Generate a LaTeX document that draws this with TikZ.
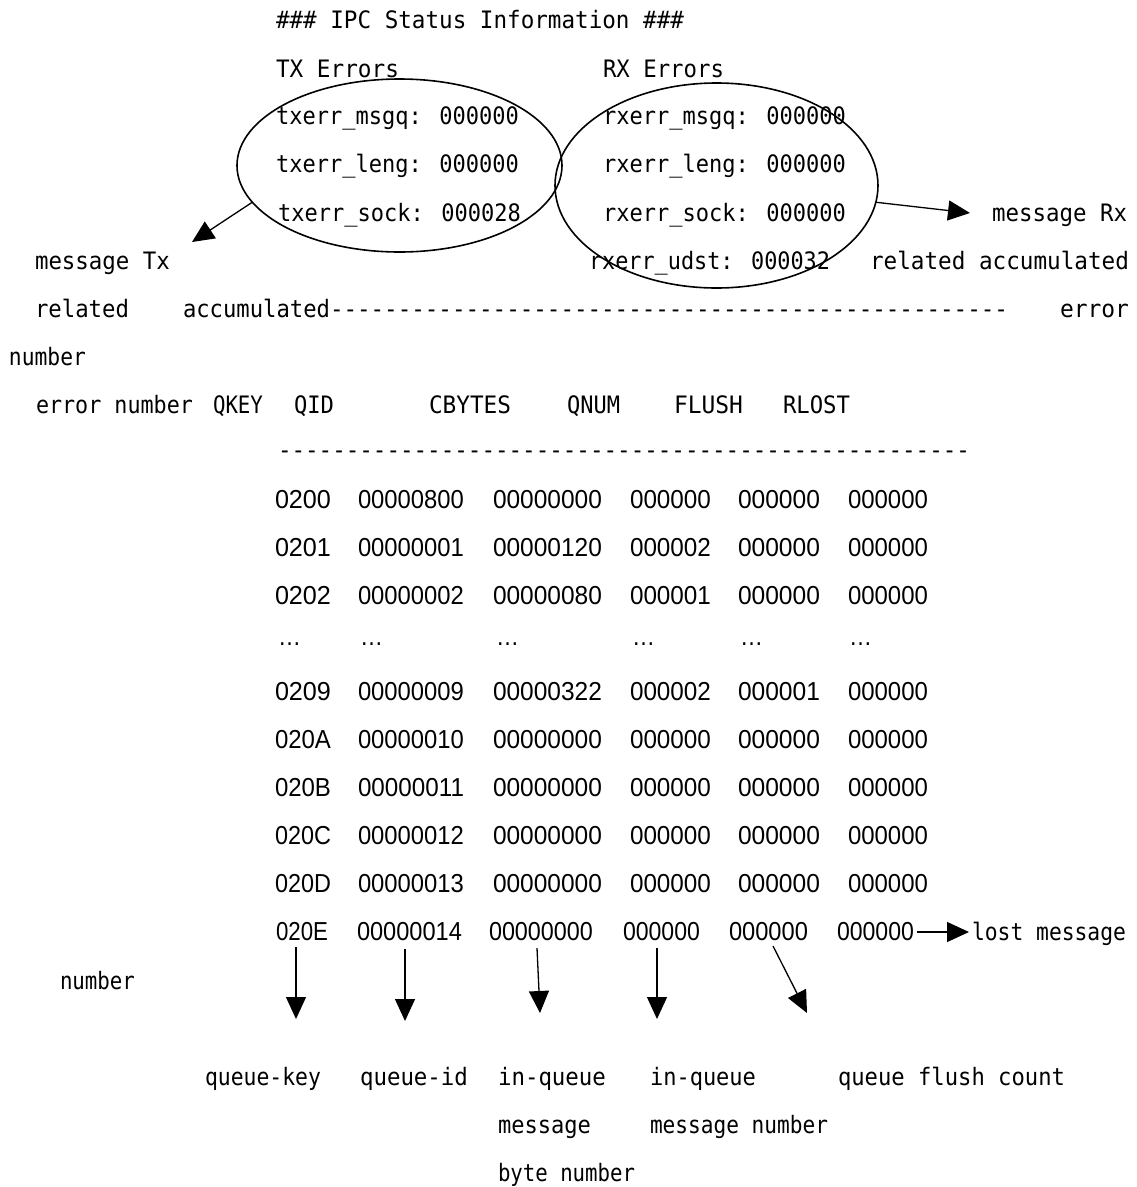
\documentclass[tikz,border=0pt]{standalone}
\usepackage{fontspec}
\usepackage{graphicx}
\setmainfont{DejaVu Sans}
\newfontfamily\gmono{DejaVu Sans Mono}
\newfontfamily\helv{Liberation Sans}
\usetikzlibrary{arrows.meta,shapes.geometric}
\newcommand\fitw[2]{\resizebox{#1pt}{\height}{#2}}
\newcommand\gl[5]{\node[gtext] (#1) at (#2,#3) {\fitw{#4}{#5}};}
\newcommand\hl[5]{\node[htext] (#1) at (#2,#3) {\fitw{#4}{#5}};}
\begin{document}
\begin{tikzpicture}[x=1pt,y=-1pt,
  gtext/.style={anchor=base west,inner sep=0pt,outer sep=0pt,font=\gmono\fontsize{24}{28}\selectfont},
  htext/.style={anchor=base west,inner sep=0pt,outer sep=0pt,font=\helv\fontsize{26}{30}\selectfont},
  ell/.style={draw,line width=1.6pt,ellipse,inner sep=0pt,outer sep=0pt},
  arr/.style={line width=1.3pt,-{Triangle[length=22pt,width=20pt]}}]
\useasboundingbox (0,0) rectangle (1137,1187);
\fill[white] (0,0) rectangle (1137,1187);

% header block
\gl{title}{276}{28}{408}{\#\#\# IPC Status Information \#\#\#}
\gl{txhead}{276}{77}{123}{TX Errors}
\gl{rxhead}{603}{77}{121}{RX Errors}
\gl{txmsgq}{276}{124}{243}{txerr\_msgq: 000000}
\gl{txleng}{276}{172}{243}{txerr\_leng: 000000}
\gl{txsock}{278}{221}{243}{txerr\_sock: 000028}
\gl{rxmsgq}{603}{124}{243}{rxerr\_msgq: 000000}
\gl{rxleng}{603}{172}{243}{rxerr\_leng: 000000}
\gl{rxsock}{603}{221}{243}{rxerr\_sock: 000000}
\gl{msgrx}{992}{221}{135}{message Rx}
\gl{msgtx}{35}{269}{135}{message Tx}
\gl{rxudst}{589}{269}{241}{rxerr\_udst: 000032}
\gl{relacc}{870}{269}{259}{related accumulated}
\gl{related}{35}{317}{94}{related}
\gl{accum}{183}{317}{147}{accumulated}
\gl{dashA}{330}{317}{678}{--------------------------------------------------}
\gl{errR}{1060}{317}{69}{error}
\gl{numL}{9}{365}{77}{number}
\gl{errnum}{36}{413}{157}{error number}
\gl{hqkey}{213}{413}{50}{QKEY}
\gl{hqid}{294}{413}{40}{QID}
\gl{hcb}{429}{413}{82}{CBYTES}
\gl{hqnum}{567}{413}{53}{QNUM}
\gl{hflush}{674}{413}{69}{FLUSH}
\gl{hrlost}{783}{413}{67}{RLOST}
\gl{dashB}{278}{458}{692}{---------------------------------------------------}

% ellipses
\node[ell,minimum width=325pt,minimum height=173pt] (txell) at (399.5,165.5) {};
\node[ell,minimum width=323pt,minimum height=205pt] (rxell) at (716.5,185.5) {};

% table rows
\foreach \r/\y/\a/\b/\c/\d/\e/\f in {
  1/508/0200/00000800/00000000/000000/000000/000000,
  2/556/0201/00000001/00000120/000002/000000/000000,
  3/604/0202/00000002/00000080/000001/000000/000000,
  5/700/0209/00000009/00000322/000002/000001/000000,
  6/748/020A/00000010/00000000/000000/000000/000000,
  7/796/020B/00000011/00000000/000000/000000/000000,
  8/844/020C/00000012/00000000/000000/000000/000000,
  9/892/020D/00000013/00000000/000000/000000/000000}{
  \hl{r\r c1}{275}{\y}{56}{\a}
  \hl{r\r c2}{358}{\y}{106}{\b}
  \hl{r\r c3}{493}{\y}{109}{\c}
  \hl{r\r c4}{630}{\y}{81}{\d}
  \hl{r\r c5}{738}{\y}{82}{\e}
  \hl{r\r c6}{848}{\y}{80}{\f}
}
\foreach \i/\x in {1/278,2/360,3/496,4/632,5/740,6/849}{
  \hl{dots\i}{\x}{645}{23}{…}
}
% last row
\hl{r10c1}{276}{940}{52}{020E}
\hl{r10c2}{357}{940}{105}{00000014}
\hl{r10c3}{489}{940}{104}{00000000}
\hl{r10c4}{623}{940}{77}{000000}
\hl{r10c5}{729}{940}{79}{000000}
\hl{r10c6}{837}{940}{77}{000000}
\gl{lost}{972}{940}{154}{lost message}
\gl{numB}{60}{989}{75}{number}

% bottom labels
\gl{qkey}{205}{1085}{116}{queue-key}
\gl{qid}{360}{1085}{108}{queue-id}
\gl{inq1}{498}{1085}{108}{in-queue}
\gl{inq2}{650}{1085}{106}{in-queue}
\gl{qfc}{838}{1085}{227}{queue flush count}
\gl{msg1}{498}{1133}{93}{message}
\gl{msgnum}{650}{1133}{178}{message number}
\gl{bytenum}{498}{1181}{137}{byte number}

% arrow coordinates
\coordinate (txtip) at (192,242);
\coordinate (rxtip) at (970,213);
\coordinate (losts) at (917,932);
\coordinate (losttip) at (969,932);
\coordinate (a1s) at (296,947); \coordinate (a1e) at (296,1019);
\coordinate (a2s) at (405,949); \coordinate (a2e) at (405,1021);
\coordinate (a3s) at (537,948); \coordinate (a3e) at (540,1013);
\coordinate (a4s) at (657,948); \coordinate (a4e) at (657,1019);
\coordinate (a5s) at (773,946); \coordinate (a5e) at (807,1013);

\draw[arr] (txell.194.5) -- (txtip);
\draw[arr] (rxell.-6.3) -- (rxtip);
\draw[arr] (losts) -- (losttip);
\draw[arr] (a1s) -- (a1e);
\draw[arr] (a2s) -- (a2e);
\draw[arr] (a3s) -- (a3e);
\draw[arr] (a4s) -- (a4e);
\draw[arr] (a5s) -- (a5e);
\end{tikzpicture}
\end{document}
